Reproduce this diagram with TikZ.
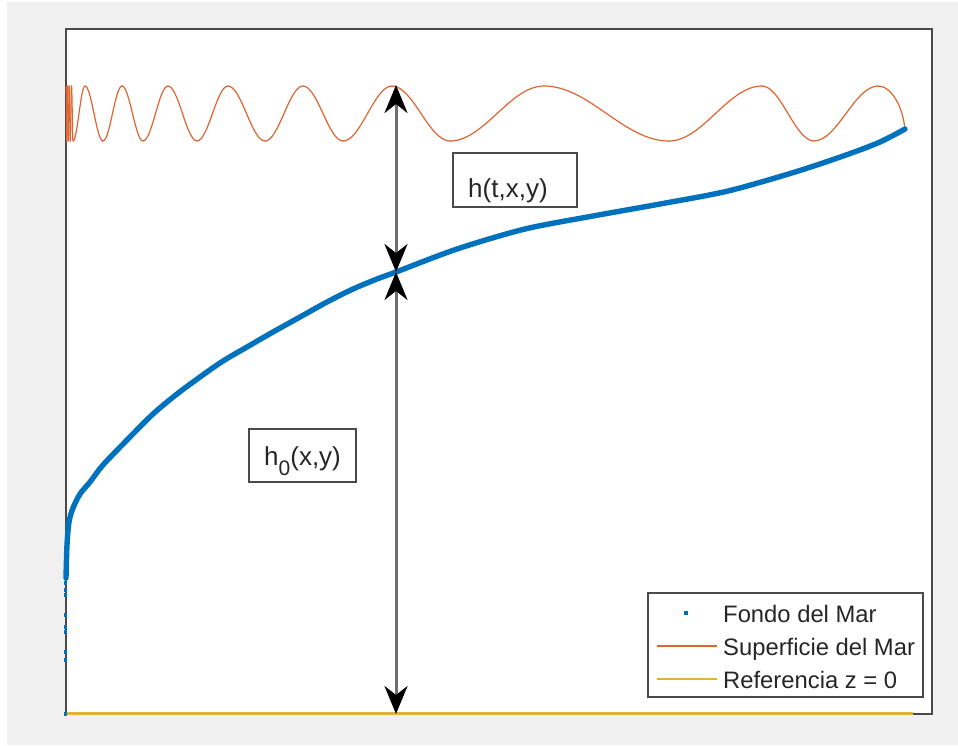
\documentclass[tikz,border=0pt]{standalone}
\usepackage{fontspec}
\setmainfont{Liberation Sans}
\usetikzlibrary{arrows.meta}
\definecolor{bgray}{HTML}{F0F0F0}
\definecolor{mblue}{HTML}{0072BD}
\definecolor{morange}{HTML}{DE6530}
\definecolor{myellow}{HTML}{E3B03A}
\definecolor{axc}{HTML}{4A4A4A}
\definecolor{txt}{HTML}{262626}
\definecolor{arrg}{HTML}{6E6E6E}
\begin{document}
\begin{tikzpicture}[x=1pt,y=-1pt,
  surf/.style={draw=morange, line width=1.2pt, line cap=round},
  seabed/.style={draw=mblue, line width=5.4pt, line cap=round, line join=round},
  refline/.style={draw=myellow, line width=2.6pt},
  dbl/.style={draw=arrg, line width=3pt,
    {Stealth[length=28pt,width=23pt,inset=9pt,black]}-{Stealth[length=28pt,width=23pt,inset=9pt,black]}},
  tbox/.style={draw=axc, line width=1.8pt, fill=white, inner sep=0pt},
  lab/.style={text=txt, inner sep=0pt, font=\fontsize{26}{30}\selectfont},
  legtxt/.style={text=txt, inner sep=0pt, anchor=base west, font=\fontsize{23.8}{27}\selectfont},
  dot/.style={fill=mblue, inner sep=0pt, minimum size=3.5pt}
]
\useasboundingbox (0,0) rectangle (958,745);
\fill[white] (0,0) rectangle (958,745);
\fill[bgray] (7,2) rectangle (958,745);
% axes
\draw[axc, line width=1.8pt, fill=white] (66,29) rectangle (932,714);
% reference line z=0
\draw[refline] (66,713.5) -- (913,713.5);
% sea surface
\def\px{66.2}\def\py{86}
\foreach \x/\y in {66.8/141, 67.5/86, 68.3/141, 69.2/86, 70.3/141, 71.5/86, 73/141, 85/86, 103/141, 122/86, 143/141, 168/86, 197/141, 228/86, 265/141, 303/86, 343/141, 392/86, 450/141, 544/86, 669/141, 762/86, 814/141, 878/86}{
  \pgfmathsetmacro\ca{\px+0.3634*(\x-\px)}
  \pgfmathsetmacro\cb{\x-0.3634*(\x-\px)}
  \draw[surf] (\px,\py) .. controls (\ca,\py) and (\cb,\y) .. (\x,\y);
  \xdef\px{\x}\xdef\py{\y}
}
\draw[surf] (878,86) .. controls (891,86) and (903,106) .. (905,130);
% sea bottom
\draw[seabed] plot[smooth, tension=0.5] coordinates {(66,578) (67,545) (69,522) (73,508) (80,494) (90,482) (103,465) (127,440) (153,414) (177,394) (200,377) (223,361) (247,347) (273,332) (300,317) (327,302) (353,289) (377,279) (396,272) (457,249) (525,229) (593,216) (660,204) (728,191) (795,172) (846,155) (880,142) (905,129)};
\foreach \yy [count=\i] in {583,590,595,615,627,632,652,660,714}{
  \node[dot] (d\i) at (65.5,\yy) {};
}
% arrows
\coordinate (top) at (396,85);
\coordinate (mid) at (396,272);
\coordinate (bot) at (396,714);
\draw[dbl] (top) -- (mid);
\draw[dbl] (mid) -- (bot);
% annotation boxes
\node[tbox, minimum width=124pt, minimum height=54pt] (hbox) at (515,180) {};
\node[lab, anchor=base west] (htext) at (468,197) {h(t,x,y)};
\node[tbox, minimum width=107pt, minimum height=53pt] (h0box) at (302.5,455.5) {};
\node[lab, anchor=base west] (h0text) at (264,465) {h\raisebox{-10pt}{\fontsize{21}{21}\selectfont 0}(x,y)};
% legend
\node[draw=axc, line width=1.8pt, fill=white, minimum width=275pt, minimum height=104pt, inner sep=0pt] (leg) at (785.5,645) {};
\node[dot, minimum size=4pt] (legdot) at (686,613) {};
\coordinate (lo1) at (657,646); \coordinate (lo2) at (717,646);
\coordinate (ly1) at (657,679); \coordinate (ly2) at (717,679);
\draw[surf, line width=2pt, line cap=butt] (lo1) -- (lo2);
\draw[draw=myellow, line width=2pt] (ly1) -- (ly2);
\node[legtxt] (l1) at (723,622) {Fondo del Mar};
\node[legtxt] (l2) at (723,655) {Superficie del Mar};
\node[legtxt] (l3) at (723,688) {Referencia z = 0};
\end{tikzpicture}
\end{document}
